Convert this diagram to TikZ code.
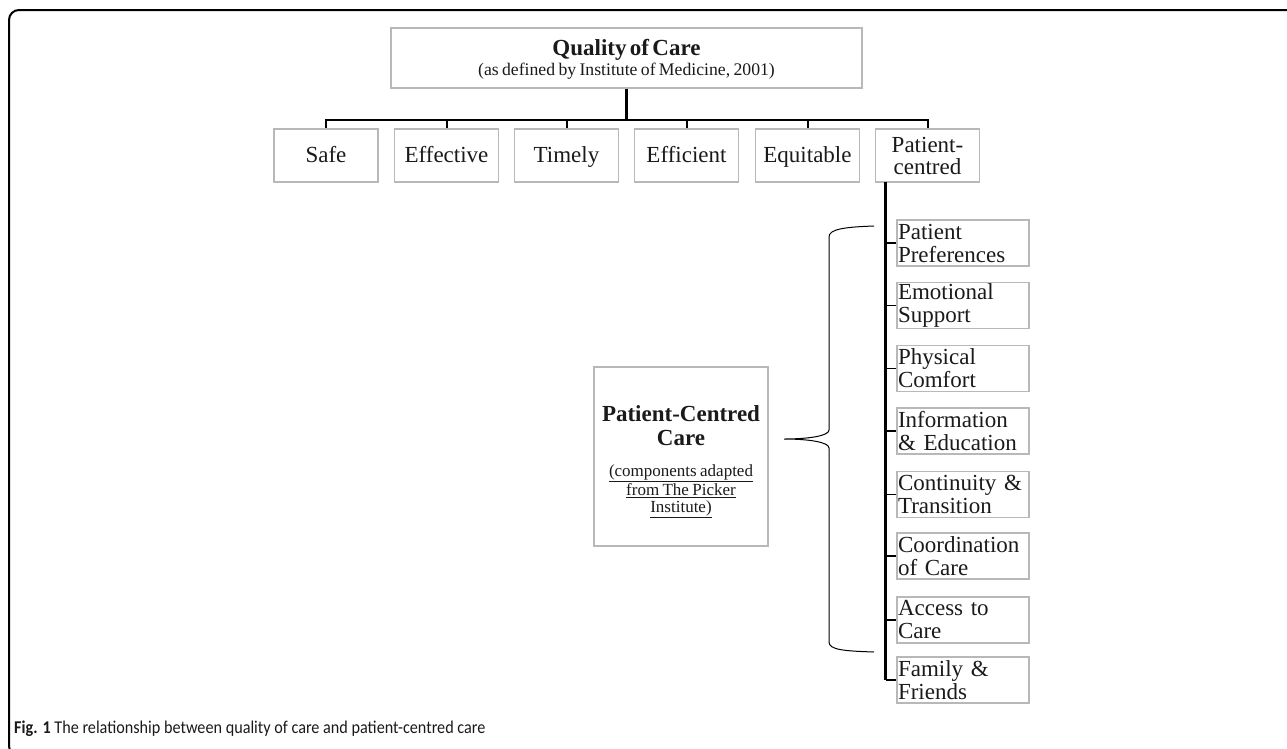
\documentclass[tikz,border=0pt]{standalone}
\usepackage{fontspec}
\usepackage{graphicx}
\setmainfont{Liberation Serif}
\newfontfamily\capfont{Carlito}
\definecolor{boxgray}{HTML}{B8B8B8}
\definecolor{txt}{HTML}{1A1A1A}
\begin{document}
\begin{tikzpicture}[x=1pt,y=-1pt,
  box/.style={draw=boxgray, line width=1.3pt, inner sep=0pt, text=txt, align=center},
  topbox/.style={box, minimum width=471pt, minimum height=60pt, text width=469pt},
  rowbox/.style={box, minimum width=104pt, minimum height=53pt, font=\fontsize{23}{22}\selectfont},
  rowone/.style={rowbox, text height=17pt, text depth=4pt},
  rbox/.style={box, minimum width=132pt, minimum height=46pt, text width=130pt, inner sep=1pt, align=left, font=\fontsize{23}{23}\selectfont},
  conn/.style={draw=black, line width=2pt},
  trunk/.style={draw=black, line width=2.6pt},
  stub/.style={draw=black, line width=1.8pt},
  bracket/.style={draw=black, line width=1pt},
  frame/.style={draw=black, line width=2pt, rounded corners=10pt}
]
\useasboundingbox (0,0) rectangle (1287,748);
\clip (0,0) rectangle (1287,748);
% frame
\draw[frame] (1300,10) -- (9,10) -- (9,756) -- (40,756);

% top box
\node[topbox] (top) at (626.5,58) {};
\node[anchor=north, inner sep=0pt, text width=469pt, align=center, text=txt] (topt) at (626.5,39)
 {{\fontsize{23}{23}\selectfont\bfseries Quality of Care\par}{\fontsize{17.7}{20}\selectfont (as defined by Institute of Medicine, 2001)\par}};

% row of dimensions
\node[rowone] (safe) at (326,155.5) {Safe};
\node[rowone] (eff) at (446.5,155.5) {Effective};
\node[rowone] (tim) at (566.5,155.5) {Timely};
\node[rowone] (effi) at (686.5,155.5) {Efficient};
\node[rowone] (equ) at (807.5,155.5) {Equitable};
\node[rowbox] (pc) at (927.5,155.5) {};
\node[anchor=north, inner sep=0pt, align=center, text=txt, font=\fontsize{23}{22}\selectfont] (pct) at (927.5,137) {Patient-\\centred};

\coordinate (bus) at (626.5,120);
\draw[trunk] (top.south) -- (bus);
\foreach \n in {safe,eff,tim,effi,equ,pc}{
  \draw[conn] (bus) -| (\n.north);
}

% components
\node[rbox] (pp) at (963,243) {Patient\\Preferences};
\node[rbox] (es) at (963,305.5) {Emotional\\Support};
\node[rbox] (phc) at (963,368.5) {Physical\\Comfort};
\node[rbox] (ie) at (963,431) {Information\\\& Education};
\node[rbox] (ct) at (963,494.5) {Continuity \&\\Transition};
\node[rbox] (cc) at (963,556) {Coordination\\of Care};
\node[rbox] (ac) at (963,620) {Access to\\Care};
\node[rbox] (ff) at (963,680) {Family \&\\Friends};

\coordinate (sp) at (885.5,182);
\draw[trunk] (sp) -- (sp |- ff.west);
\foreach \n in {pp,es,phc,ie,ct,cc,ac,ff}{
  \draw[stub] (\n.west -| sp) -- (\n.west);
}

% patient-centred care box
\node[box, minimum width=174pt, minimum height=179pt] (pcc) at (681,456.5) {};
\node[anchor=north, inner sep=0pt, text width=172pt, align=center, text=txt] (pcct) at (681,405.5)
 {{\fontsize{23}{24}\selectfont\bfseries Patient-Centred\\Care\par}\vspace{14pt}%
  {\fontsize{17}{17}\selectfont \underline{(components adapted}\\\underline{from The Picker}\\\underline{Institute)}\par}};

% brace
\coordinate (tip) at (784,439);
\draw[bracket] (874,226) .. controls (845,227) and (829,229) .. (829,237)
  -- (829,430) .. controls (829,436) and (808,439) .. (tip)
  .. controls (808,439) and (829,442) .. (829,448)
  -- (829,642) .. controls (829,650) and (845,651) .. (874,652);

% caption
\node[anchor=base west, inner sep=0pt, font=\capfont\fontsize{18}{18}\selectfont, text=txt] (cap) at (14,733)
  {\scalebox{0.9}[1]{\textbf{Fig. 1} The relationship between quality of care and patient-centred care}};
\end{tikzpicture}
\end{document}
